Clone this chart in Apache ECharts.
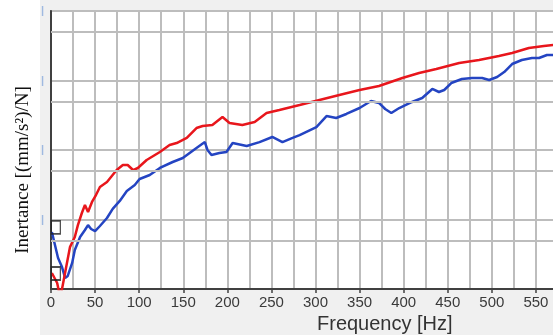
<!DOCTYPE html>
<html>
<head>
<meta charset="utf-8">
<script src="https://cdn.jsdelivr.net/npm/echarts@6/dist/echarts.min.js"></script>
<style>html,body{margin:0;padding:0;background:#fff;}#c{width:553px;height:335px;}</style>
</head>
<body>
<div id="c"></div>
<script>
// Frequency axis tick labels (Hz)
var xTicks = [0, 50, 100, 150, 200, 250, 300, 350, 400, 450, 500, 550];
// Minor horizontal grid values (5x each decade) on log inertance axis
var yMinorGrid = [5, 50, 500, 5000];

// Red curve
var redFreq = [1, 7, 10, 12.5, 17, 21.5, 27, 30.5, 35, 38.5, 42, 46.5, 51, 55.5, 63.5, 69, 74.5, 81.5, 87, 93, 98.5, 108.5, 123.5, 134.5, 142.5, 154, 165, 172, 183, 194.5, 202.5, 217, 231, 244.5, 259, 282, 304.5, 327, 350, 372, 398.5, 417.5, 437, 463, 485.5, 508, 523, 542, 559, 570];
var redVal = [1.7, 1.22, 0.8, 1.0, 2.0, 4.0, 5.6, 8.3, 12.4, 16.2, 12.8, 17.9, 22.5, 29.4, 34.6, 42.3, 51.5, 60.8, 60.8, 51.5, 55.1, 71.8, 93.6, 118, 126, 149, 207, 221, 229, 298, 245, 229, 253, 341, 376, 444, 524, 618, 730, 834, 1086, 1282, 1463, 1786, 1972, 2252, 2488, 2936, 3135, 3243];

// Blue curve
var blueFreq = [1, 4.5, 8, 12.5, 16, 19, 24, 27, 33, 38.5, 42, 45.5, 50, 55.5, 63.5, 70, 78, 86, 95, 100.5, 112, 123.5, 138, 149.5, 165, 174.5, 177.5, 182, 191, 199, 206, 222, 236.5, 251, 262.5, 274, 282, 301, 312.5, 323.5, 335, 350, 363, 372, 379, 386, 395, 409.5, 421, 432.5, 440, 446, 454, 466, 477.5, 489, 497, 506, 514, 523, 534, 545.5, 553.5, 562.5, 570];
var blueVal = [6.6, 4.3, 2.8, 2.07, 1.44, 1.54, 2.37, 3.64, 5.6, 7.06, 8.3, 7.3, 6.8, 8.06, 10.5, 14.2, 18.5, 25.7, 31.4, 38.3, 43.7, 55.1, 67.2, 76.7, 107, 130, 100, 84.7, 90.5, 93.6, 126, 114, 130, 154, 130, 149, 164, 214, 308, 289, 330, 402, 507, 475, 389, 341, 402, 491, 560, 755, 683, 730, 920, 1051, 1086, 1086, 1016, 1122, 1325, 1727, 1972, 2108, 2108, 2328, 2328];

// Cursor box markers
var markerFreq = [5.5, 5.5];
var markerVal = [7.7, 1.67];

function pairs(xs, ys) { return xs.map(function (x, i) { return [x, ys[i]]; }); }
function gs() { return { color: '#bdbdbd', width: 2, type: 'solid' }; }

var chart = echarts.init(document.getElementById('c'), null, { renderer: 'canvas' });
chart.setOption({
  backgroundColor: '#f0f0f0',
  animation: false,
  graphic: [
    { type: 'rect', left: 0, top: 0, shape: { width: 40, height: 335 }, style: { fill: '#ffffff' }, z: -10 },
    { type: 'text', x: 23, y: 170, rotation: Math.PI / 2,
      style: { text: 'Inertance [(mm/s²)/N]', font: '19px "Liberation Serif", "Times New Roman", serif', fill: '#111', align: 'center', verticalAlign: 'middle' } }
  ],
  title: {
    text: 'Frequency [Hz]', left: 312, top: 309,
    textStyle: { fontFamily: 'Liberation Sans, Arial, sans-serif', fontSize: 20, fontWeight: 'normal', color: '#333' }
  },
  grid: { z: -1, left: 51, top: 11, width: 529, height: 278, show: true, backgroundColor: '#ffffff', borderColor: '#505050', borderWidth: 1.5, containLabel: false, outerBoundsMode: 'none' },
  xAxis: {
    type: 'value', min: 0, max: 600, interval: 50, z: 1,
    axisLine: { show: true, lineStyle: { color: '#404040', width: 2 } },
    axisTick: { show: true, length: 4, lineStyle: { color: '#404040', width: 1.5 } },
    axisLabel: {
      margin: 6, fontFamily: 'Liberation Sans, Arial, sans-serif', fontSize: 15, color: '#3a3a3a',
      formatter: function (v) { return xTicks.indexOf(v) >= 0 ? String(v) : ''; }
    },
    splitLine: { show: true, lineStyle: gs() },
    minorTick: { show: false, splitNumber: 2 },
    minorSplitLine: { show: true, lineStyle: gs() }
  },
  yAxis: {
    type: 'log', logBase: 10, min: 1, max: 10000, z: 1,
    axisLine: { show: true, lineStyle: { color: '#404040', width: 2 } },
    axisTick: { show: false },
    axisLabel: {
      margin: 7, fontSize: 11, fontWeight: 'bold', color: '#9fb9e0',
      formatter: function (v) { return v > 1 ? '|' : ''; }
    },
    splitLine: { show: true, lineStyle: gs() }
  },
  series: [
    {
      type: 'line', data: [], z: 1, silent: true,
      markLine: {
        silent: true, symbol: 'none', label: { show: false },
        lineStyle: { color: '#bdbdbd', width: 2, type: 'solid' },
        data: yMinorGrid.map(function (v) { return { yAxis: v }; })
      }
    },
    {
      type: 'line', data: pairs(blueFreq, blueVal), showSymbol: false, z: 3,
      lineStyle: { color: '#2444c2', width: 2.5 }, itemStyle: { color: '#2444c2' }
    },
    {
      type: 'line', data: pairs(redFreq, redVal), showSymbol: false, z: 4,
      lineStyle: { color: '#e8161c', width: 2.5 }, itemStyle: { color: '#e8161c' }
    },
    {
      type: 'scatter', data: pairs(markerFreq, markerVal), symbol: 'rect', symbolSize: [9, 13], z: 5,
      itemStyle: { color: 'rgba(0,0,0,0)', borderColor: '#222', borderWidth: 1.5 }
    }
  ]
});
</script>
</body>
</html>
